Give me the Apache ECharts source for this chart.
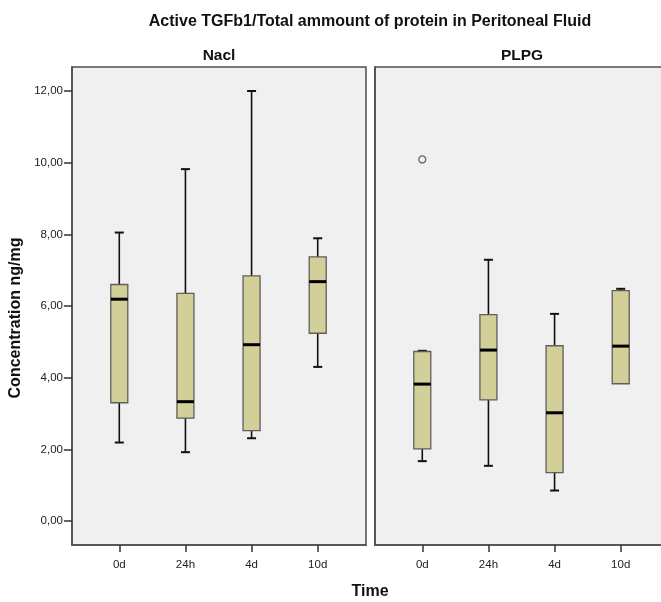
<!DOCTYPE html>
<html>
<head>
<meta charset="utf-8">
<script src="https://cdn.jsdelivr.net/npm/echarts@6/dist/echarts.min.js"></script>
<style>
html,body{margin:0;padding:0;background:#fff;}
#chart{width:661px;height:602px;}
</style>
</head>
<body>
<div id="chart"></div>
<script>
// ---- data ----
const timeCategories = ['0d', '24h', '4d', '10d'];
const groups = ['Nacl', 'PLPG'];
// [min, Q1, median, Q3, max]
const naclBoxes = [
  [2.19, 3.30, 6.19, 6.60, 8.05],
  [1.92, 2.87, 3.33, 6.35, 9.82],
  [2.31, 2.52, 4.92, 6.84, 12.00],
  [4.30, 5.24, 6.68, 7.37, 7.89]
];
const plpgBoxes = [
  [1.67, 2.01, 3.82, 4.73, 4.75],
  [1.54, 3.38, 4.77, 5.76, 7.29],
  [0.85, 1.35, 3.02, 4.89, 5.78],
  [3.83, 3.83, 4.88, 6.43, 6.48]
];
// outliers: [category index, value]
const plpgOutliers = [[0, 10.09]];
const yTicks = [0, 2, 4, 6, 8, 10, 12];

const FONT = 'Liberation Sans, Arial, sans-serif';

function toData(boxes) {
  return boxes.map((b, i) => [i].concat(b));
}

function renderBox(params, api) {
  const x = api.value(0);
  const pMin = api.coord([x, api.value(1)]);
  const pQ1 = api.coord([x, api.value(2)]);
  const pMed = api.coord([x, api.value(3)]);
  const pQ3 = api.coord([x, api.value(4)]);
  const pMax = api.coord([x, api.value(5)]);
  const cx = pMin[0];
  const hw = 8.5, cw = 4.5;
  const wStyle = {stroke: '#111', lineWidth: 1.6, fill: null};
  const children = [];
  if (Math.abs(pMax[1] - pQ3[1]) > 0.5) {
    children.push({type: 'line', shape: {x1: cx, y1: pQ3[1], x2: cx, y2: pMax[1]}, style: wStyle});
  }
  children.push({type: 'line', shape: {x1: cx - cw, y1: pMax[1], x2: cx + cw, y2: pMax[1]}, style: {stroke: '#111', lineWidth: 2}});
  if (Math.abs(pMin[1] - pQ1[1]) > 0.5) {
    children.push({type: 'line', shape: {x1: cx, y1: pQ1[1], x2: cx, y2: pMin[1]}, style: wStyle});
    children.push({type: 'line', shape: {x1: cx - cw, y1: pMin[1], x2: cx + cw, y2: pMin[1]}, style: {stroke: '#111', lineWidth: 2}});
  }
  children.push({type: 'rect', shape: {x: cx - hw, y: pQ3[1], width: hw * 2, height: pQ1[1] - pQ3[1]},
    style: {fill: '#d3cf98', stroke: '#5e5e5e', lineWidth: 1.3}});
  children.push({type: 'line', shape: {x1: cx - hw, y1: pMed[1], x2: cx + hw, y2: pMed[1]}, style: {stroke: '#000', lineWidth: 3}});
  return {type: 'group', children: children};
}

const chart = echarts.init(document.getElementById('chart'), null, {renderer: 'canvas'});

const gridBase = {top: 67, height: 478, width: 294, show: true, backgroundColor: '#f0f0f0', borderColor: '#4d4d4d', borderWidth: 1.5, outerBoundsMode: 'none', containLabel: false};

function xAxisCfg(gi) {
  return {
    type: 'value', gridIndex: gi, min: -0.715, max: 3.73,
    splitLine: {show: false},
    axisLine: {show: true, onZero: false, lineStyle: {color: '#4d4d4d', width: 1.5}},
    axisTick: {show: true, customValues: [0, 1, 2, 3], length: 7, lineStyle: {color: '#333', width: 1.5}},
    axisLabel: {customValues: [0, 1, 2, 3], formatter: v => timeCategories[Math.round(v)] || '', color: '#222', fontSize: 11.5, fontFamily: FONT, margin: 14}
  };
}
function yAxisCfg(gi, showLabels) {
  return {
    type: 'value', gridIndex: gi, min: -0.67, max: 12.67,
    splitLine: {show: false},
    axisLine: {show: true, onZero: false, lineStyle: {color: '#4d4d4d', width: 1.5}},
    axisTick: {show: showLabels, customValues: yTicks, length: 8, lineStyle: {color: '#333', width: 1.5}},
    axisLabel: {show: showLabels, customValues: yTicks, formatter: v => v.toFixed(2).replace('.', ','), color: '#222', fontSize: 11.5, fontFamily: FONT, margin: 9}
  };
}

chart.setOption({
  animation: false,
  backgroundColor: '#ffffff',
  title: [
    {text: 'Active TGFb1/Total ammount of protein in Peritoneal Fluid', left: 365, top: 9, textAlign: 'center',
      textStyle: {fontSize: 16, fontWeight: 'bold', fontFamily: FONT, color: '#111'}},
    {text: groups[0], left: 214, top: 43, textAlign: 'center', textStyle: {fontSize: 15.5, fontWeight: 'bold', fontFamily: FONT, color: '#111'}},
    {text: groups[1], left: 517, top: 43, textAlign: 'center', textStyle: {fontSize: 15.5, fontWeight: 'bold', fontFamily: FONT, color: '#111'}}
  ],
  grid: [
    Object.assign({}, gridBase, {left: 72}),
    Object.assign({}, gridBase, {left: 375})
  ],
  xAxis: [xAxisCfg(0), xAxisCfg(1)],
  yAxis: [yAxisCfg(0, true), yAxisCfg(1, false)],
  graphic: [
    {type: 'text', x: 16, y: 318, rotation: Math.PI / 2,
      style: {text: 'Concentration ng/mg', fontSize: 16, fontWeight: 'bold', fontFamily: FONT, fill: '#111', align: 'center', verticalAlign: 'middle'}},
    {type: 'text', x: 370, y: 592,
      style: {text: 'Time', fontSize: 16, fontWeight: 'bold', fontFamily: FONT, fill: '#111', align: 'center', verticalAlign: 'middle'}}
  ],
  series: [
    {type: 'custom', xAxisIndex: 0, yAxisIndex: 0, renderItem: renderBox, data: toData(naclBoxes), encode: {x: 0, y: [1, 2, 3, 4, 5]}},
    {type: 'custom', xAxisIndex: 1, yAxisIndex: 1, renderItem: renderBox, data: toData(plpgBoxes), encode: {x: 0, y: [1, 2, 3, 4, 5]}},
    {type: 'scatter', xAxisIndex: 1, yAxisIndex: 1, data: plpgOutliers, symbol: 'circle', symbolSize: 7,
      itemStyle: {color: '#f0f0f0', borderColor: '#444', borderWidth: 1.3}}
  ]
});
</script>
</body>
</html>
